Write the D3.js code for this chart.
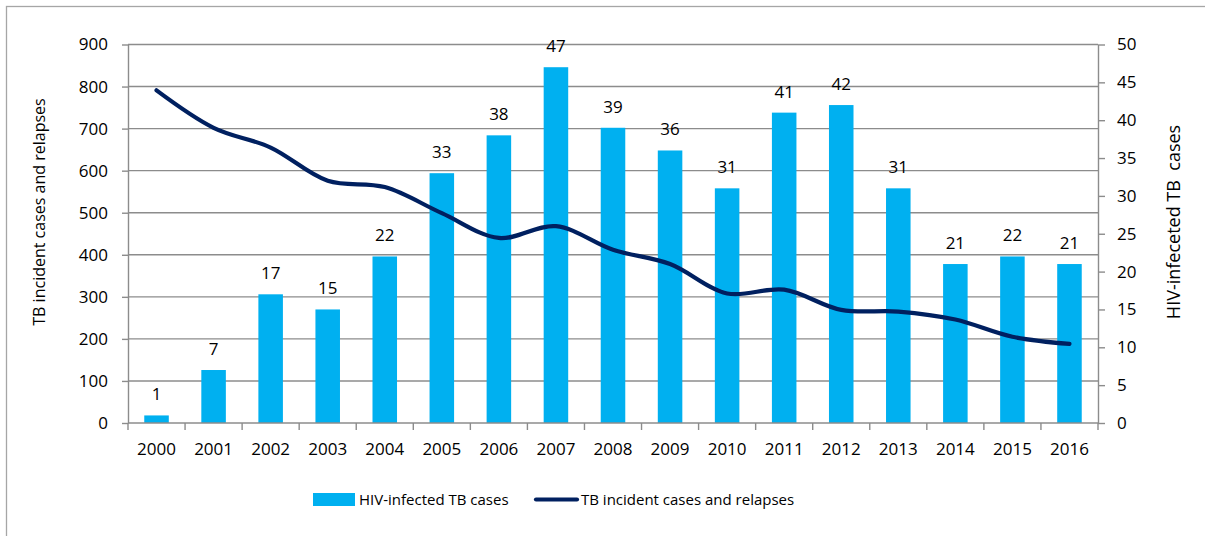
<!DOCTYPE html>
<html>
<head>
<meta charset="utf-8">
<script src="https://cdn.jsdelivr.net/npm/d3@7"></script>
<style>
  body { margin: 0; background: #fff; }
  svg text { font-family: "Open Sans", sans-serif; fill: #000; }
</style>
</head>
<body>
<svg id="chart" width="1205" height="536"></svg>
<script>
// data
var years = ["2000","2001","2002","2003","2004","2005","2006","2007","2008","2009","2010","2011","2012","2013","2014","2015","2016"];
var hivCases = [1, 7, 17, 15, 22, 33, 38, 47, 39, 36, 31, 41, 42, 31, 21, 22, 21];
var tbCases = [791, 702, 655, 576, 561, 499, 440, 468, 412, 378, 308, 317, 269, 265, 246, 205, 188];
var leftTicks = [0, 100, 200, 300, 400, 500, 600, 700, 800, 900];
var rightTicks = [0, 5, 10, 15, 20, 25, 30, 35, 40, 45, 50];

var barColor = "#00b0f0", lineColor = "#002060", gridColor = "#8c8c8c";
var svg = d3.select("#chart");

// outer frame
svg.append("rect").attr("x", 6.5).attr("y", 6.5).attr("width", 1250).attr("height", 600)
  .attr("fill", "none").attr("stroke", "#a6a6a6").attr("stroke-width", 1.3);

var plotLeft = 128, plotRight = 1098, plotTop = 44.5, plotBottom = 423;

var x = d3.scaleBand().domain(years).range([plotLeft, plotRight]).paddingInner(0.57).paddingOuter(0.285);
var yL = d3.scaleLinear().domain([0, 900]).range([plotBottom, plotTop]);
var yR = d3.scaleLinear().domain([0, 50]).range([plotBottom, plotTop]);

// gridlines
svg.append("g").selectAll("line").data(leftTicks.slice(1)).enter().append("line")
  .attr("x1", plotLeft).attr("x2", plotRight)
  .attr("y1", function(d) { return yL(d); }).attr("y2", function(d) { return yL(d); })
  .attr("stroke", gridColor).attr("stroke-width", 1.4);

// bars
svg.append("g").selectAll("rect").data(hivCases).enter().append("rect")
  .attr("x", function(d, i) { return x(years[i]); })
  .attr("width", x.bandwidth())
  .attr("y", function(d) { return yR(d); })
  .attr("height", function(d) { return plotBottom - yR(d); })
  .attr("fill", barColor);

// bar labels
svg.append("g").selectAll("text").data(hivCases).enter().append("text")
  .attr("x", function(d, i) { return x(years[i]) + x.bandwidth() / 2; })
  .attr("y", function(d) { return yR(d) - 15; })
  .attr("text-anchor", "middle").attr("font-size", 17)
  .text(function(d) { return d; });

// axes
function styleAxis(g) {
  g.select(".domain").attr("stroke", gridColor).attr("stroke-width", 1.4);
  g.selectAll(".tick line").attr("stroke", gridColor).attr("stroke-width", 1.4);
  g.selectAll(".tick text").attr("font-size", 17).attr("fill", "#000");
}

var axL = svg.append("g").attr("transform", "translate(" + plotLeft + ",0)")
  .call(d3.axisLeft(yL).tickValues(leftTicks).tickSize(6).tickPadding(14).tickSizeOuter(0));
styleAxis(axL);

var axR = svg.append("g").attr("transform", "translate(" + plotRight + ",0)")
  .call(d3.axisRight(yR).tickValues(rightTicks).tickSize(7).tickPadding(12).tickSizeOuter(0));
styleAxis(axR);

var axB = svg.append("g").attr("transform", "translate(0," + plotBottom + ")")
  .call(d3.axisBottom(x).tickSize(0).tickPadding(20).tickSizeOuter(0));
styleAxis(axB);
axB.select(".domain").attr("d", "M" + plotLeft + ",0H" + plotRight);
// tick marks at the band boundaries
var edges = years.map(function(d) { return x(d) - x.step() * x.paddingInner() / 2; }).concat([plotRight]);
axB.append("g").selectAll("line").data(edges).enter().append("line")
  .attr("x1", function(d) { return d; }).attr("x2", function(d) { return d; })
  .attr("y1", 0).attr("y2", 7).attr("stroke", gridColor).attr("stroke-width", 1.4);

// line
var line = d3.line()
  .x(function(d, i) { return x(years[i]) + x.bandwidth() / 2; })
  .y(function(d) { return yL(d); })
  .curve(d3.curveCatmullRom.alpha(0.5));
svg.append("path").datum(tbCases).attr("d", line)
  .attr("fill", "none").attr("stroke", lineColor).attr("stroke-width", 4.2)
  .attr("stroke-linecap", "round");

// axis titles
svg.append("text").attr("transform", "translate(45,212) rotate(-90)")
  .attr("text-anchor", "middle").attr("font-size", 16)
  .text("TB incident cases and relapses");
svg.append("text").attr("transform", "translate(1180,222) rotate(-90)")
  .attr("text-anchor", "middle").attr("font-size", 18).attr("xml:space", "preserve")
  .text("HIV-infeceted TB  cases");

// legend
var lg = svg.append("g");
lg.append("rect").attr("x", 313).attr("y", 493).attr("width", 42).attr("height", 13).attr("fill", barColor);
lg.append("text").attr("x", 359).attr("y", 505).attr("font-size", 15).text("HIV-infected TB cases");
lg.append("line").attr("x1", 536).attr("x2", 577).attr("y1", 499.5).attr("y2", 499.5)
  .attr("stroke", lineColor).attr("stroke-width", 4.2).attr("stroke-linecap", "round");
lg.append("text").attr("x", 581).attr("y", 505).attr("font-size", 15).text("TB incident cases and relapses");
</script>
</body>
</html>
